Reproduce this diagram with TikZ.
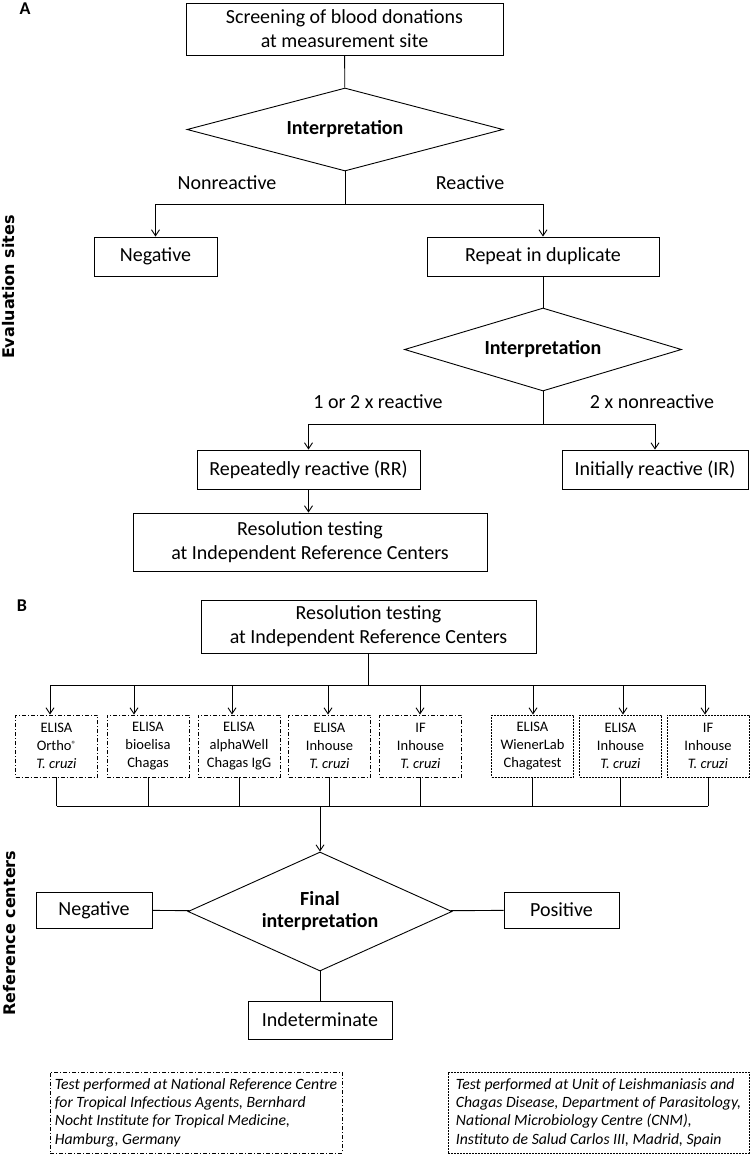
\documentclass[tikz,border=0pt]{standalone}
\usepackage{fontspec}
\setmainfont{Carlito}
\newfontfamily\sidefont{DejaVu Sans}
\usetikzlibrary{shapes.geometric,arrows.meta}

\begin{document}
\begin{tikzpicture}[
        x=1pt, y=-1pt,
        line width=0.9pt,
        font=\fontsize{20}{24}\selectfont,
        box/.style={rectangle, draw, align=center, inner sep=0pt},
        decision/.style={diamond, draw, align=center, inner sep=0pt, font=\fontsize{20}{22}\selectfont\bfseries},
        ndcdash/.style={dash pattern=on 4pt off 2pt on 1pt off 2pt},
        cnmdash/.style={dash pattern=on 2pt off 1pt},
        testbox/.style={rectangle, draw, align=center, inner sep=0pt, minimum width=82pt, minimum height=62pt, font=\fontsize{14.5}{17.8}\selectfont},
        note/.style={rectangle, draw, align=left, inner sep=0pt, minimum height=81pt, font=\fontsize{15.7}{18.3}\selectfont\itshape},
        side/.style={rotate=90, font=\fontsize{16}{19}\sidefont\bfseries},
        panel/.style={font=\fontsize{18}{20}\selectfont\bfseries},
        arrow/.style={-{Straight Barb[length=6pt,width=8pt]}}
    ]
        \useasboundingbox (0,0) rectangle (750,1157);

        % Panel A: evaluation sites
        \node[panel] (labA) at (25,9) {A};
        \node[side] (evalsites) at (9,287) {Evaluation sites};
        \node[box, minimum width=317pt, minimum height=52pt] (screen) at (344.5,29) {Screening of blood donations\\at measurement site};
        \node[decision, aspect=3.8, minimum width=316pt, minimum height=83pt] (interp1) at (345,129.5) {Interpretation};
        \node (nonreact) at (227,183) {Nonreactive};
        \node (react) at (470,183) {Reactive};
        \node[box, minimum width=123pt, minimum height=39pt] (negA) at (155.5,256.5) {Negative};
        \node[box, minimum width=232pt, minimum height=39pt] (repeat) at (543,256.5) {Repeat in duplicate};
        \node[decision, aspect=3.34, minimum width=277pt, minimum height=83pt] (interp2) at (543,349.5) {Interpretation};
        \node (onetwo) at (378,402) {1 or 2 x reactive};
        \node (twonon) at (652,402) {2 x nonreactive};
        \node[box, minimum width=223pt, minimum height=39pt] (rr) at (308.5,469.5) {Repeatedly reactive (RR)};
        \node[box, minimum width=186pt, minimum height=39pt] (ir) at (655,469.5) {Initially reactive (IR)};
        \node[box, minimum width=354pt, minimum height=58pt] (resA) at (310,542) {Resolution testing\\at Independent Reference Centers};

        % Arrows A
        \draw (screen) -- (interp1);
        \draw[arrow] (interp1.south) -- ++(0,33) -| (negA.north);
        \draw[arrow] (interp1.south) -- ++(0,33) -| (repeat.north);
        \draw (repeat) -- (interp2);
        \draw[arrow] (interp2.south) -- ++(0,33) -| (rr.north);
        \draw[arrow] (interp2.south) -- ++(0,33) -| (ir.north);
        \draw[arrow] (rr.south) -- (rr.south |- resA.north);

        % Panel B: reference centers
        \node[panel] (labB) at (22,606) {B};
        \node[side] (refcent) at (10,933) {Reference centers};
        \node[box, minimum width=335pt, minimum height=53pt] (resB) at (368.5,626.5) {Resolution testing\\at Independent Reference Centers};
        \coordinate (splitB) at (368.5,685);

        % Hamburg tests
        \node[testbox, ndcdash] (t1) at (56.5,746) {ELISA\\Ortho\raisebox{0.45ex}{\fontsize{9}{9}\selectfont ®}\\\textit{T. cruzi}};
        \node[testbox, ndcdash] (t2) at (148,746) {ELISA\\bioelisa\\Chagas};
        \node[testbox, ndcdash] (t3) at (239,746) {ELISA\\alphaWell\\Chagas IgG};
        \node[testbox, ndcdash] (t4) at (329.5,746) {ELISA\\Inhouse\\\textit{T. cruzi}};
        \node[testbox, ndcdash] (t5) at (420.5,746) {IF\\Inhouse\\\textit{T. cruzi}};
        % Madrid tests
        \node[testbox, cnmdash] (t6) at (532.5,746) {ELISA\\WienerLab\\Chagatest};
        \node[testbox, cnmdash] (t7) at (620.5,746) {ELISA\\Inhouse\\\textit{T. cruzi}};
        \node[testbox, cnmdash] (t8) at (708,746) {IF\\Inhouse\\\textit{T. cruzi}};

        \coordinate (joinB) at (320,806);
        \node[decision, aspect=2.2, minimum width=264pt, minimum height=119pt] (final) at (320,911.5) {Final\\interpretation};
        \node[box, minimum width=116pt, minimum height=36pt] (negB) at (94,910) {Negative};
        \node[box, minimum width=115pt, minimum height=36pt] (pos) at (561.5,910) {Positive};
        \node[box, minimum width=144pt, minimum height=38pt] (indet) at (320,1020) {Indeterminate};

        % Legend
        \node[note, ndcdash, minimum width=292pt] (ndcnote) at (196,1112.5) {Test performed at National Reference Centre\\for Tropical Infectious Agents, Bernhard\\Nocht Institute for Tropical Medicine,\\Hamburg, Germany};
        \node[note, cnmdash, minimum width=301pt] (cnmnote) at (598.5,1112.5) {Test performed at Unit of Leishmaniasis and\\Chagas Disease, Department of Parasitology,\\National Microbiology Centre (CNM),\\Instituto de Salud Carlos III, Madrid, Spain};

        % Arrows B
        \draw (resB) -- (splitB);
        \draw ([xshift=-6.5pt]t1.north |- splitB) -- ([xshift=-3pt]t8.north |- splitB);
        \foreach \n/\dx in {1/-6.5,2/-14,3/-7,4/-1.5,5/-0.5,6/0.5,7/2.5,8/-3}
            \draw[arrow] ([xshift=\dx pt]t\n.north |- splitB) -- ([xshift=\dx pt]t\n.north);
        \foreach \n in {1,...,8}
            \draw (t\n.south) -- (t\n.south |- joinB);
        \draw (t1.south |- joinB) -- (t8.south |- joinB);
        \draw[arrow] (joinB) -- (final.north);
        \draw (negB) -- (final);
        \draw (final) -- (pos);
        \draw (final) -- (indet);

    \end{tikzpicture}
\end{document}
